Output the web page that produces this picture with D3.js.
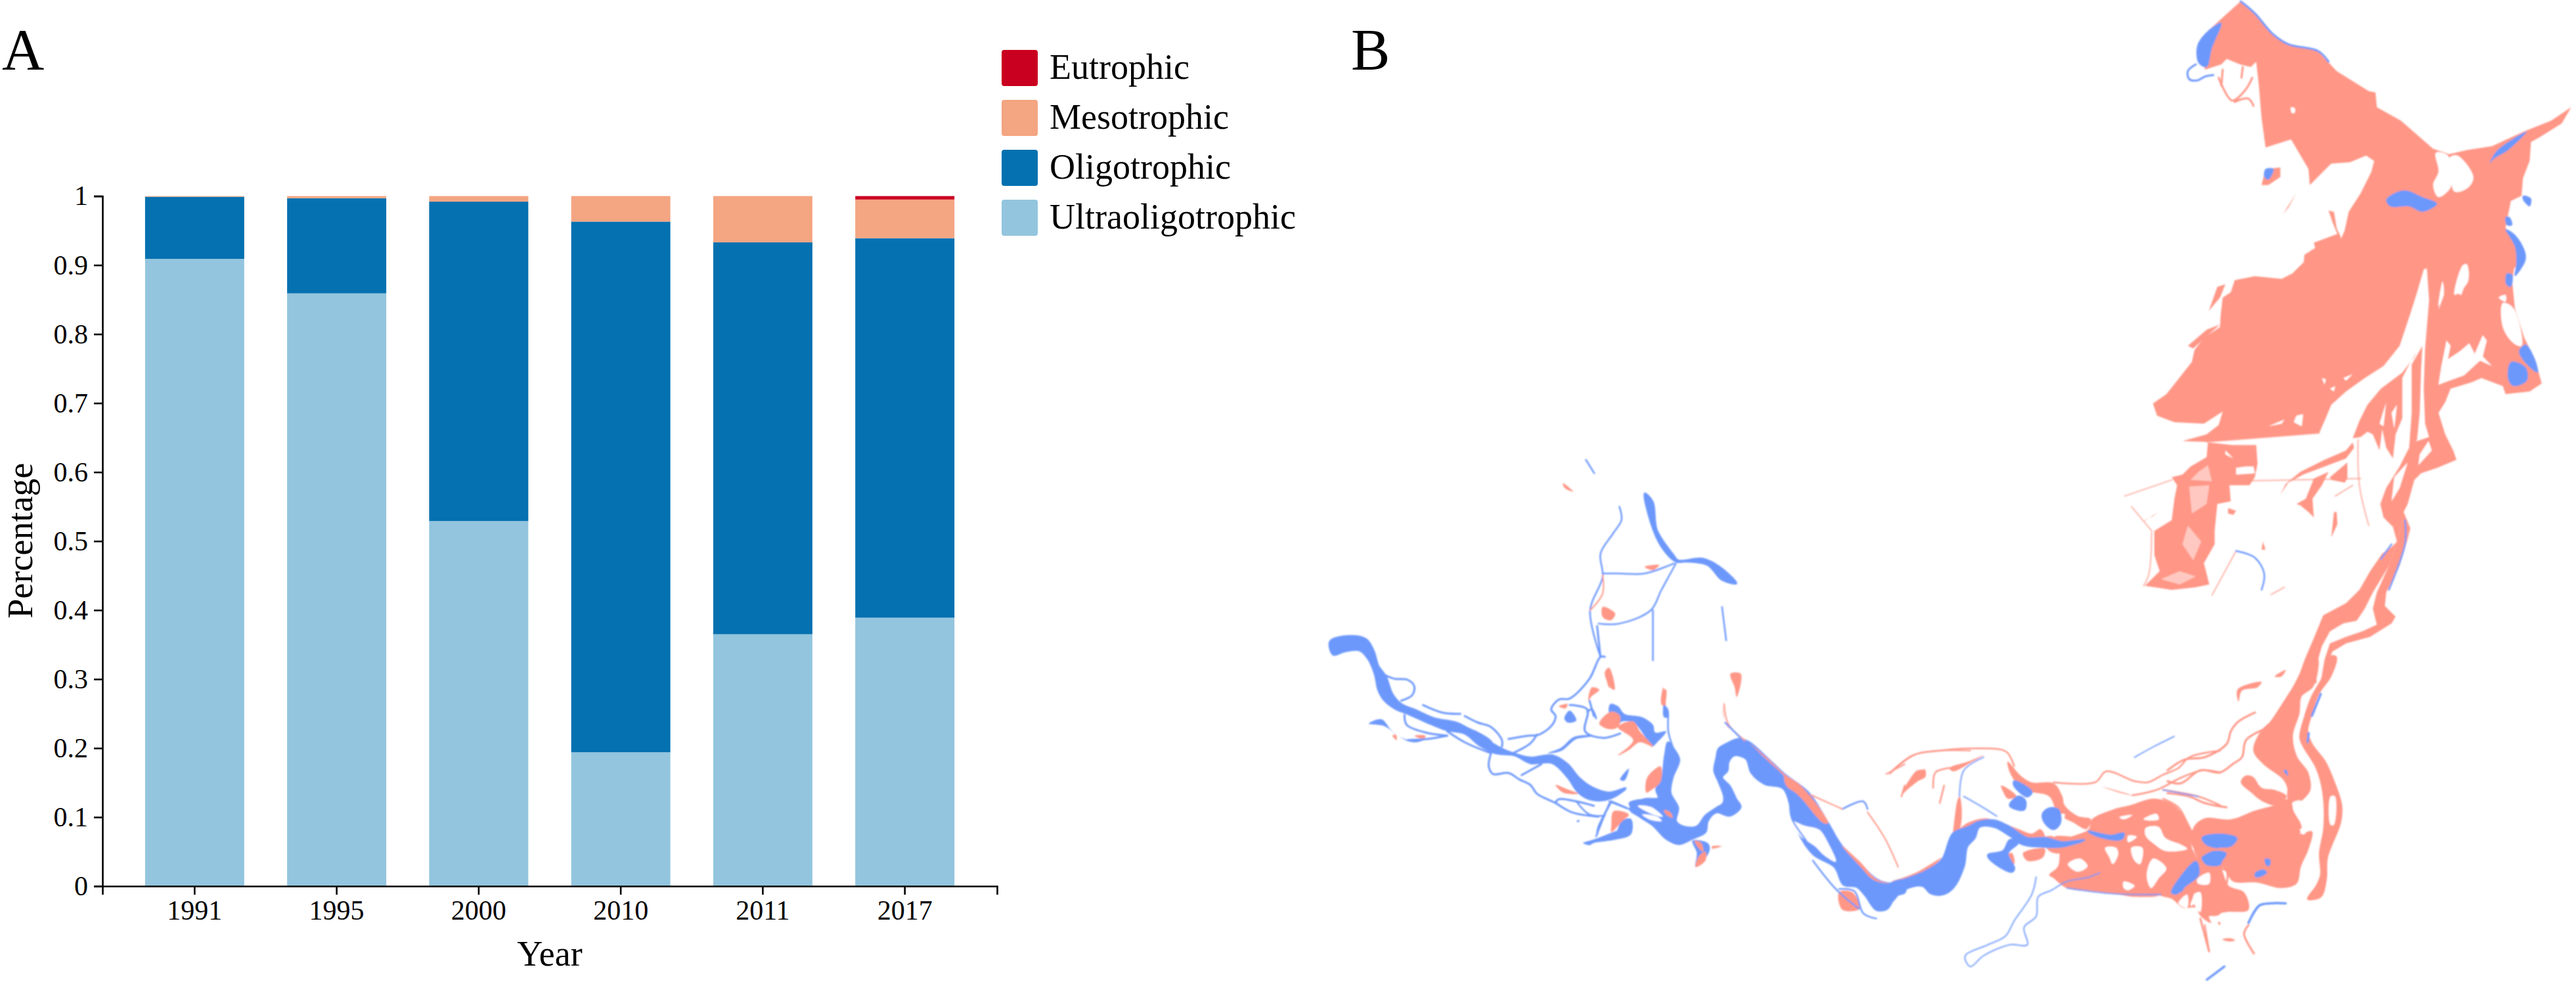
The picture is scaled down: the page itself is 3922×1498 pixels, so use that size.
<!DOCTYPE html>
<html><head><meta charset="utf-8">
<script src="https://cdn.jsdelivr.net/npm/d3@7"></script>
<style>html,body{margin:0;background:#fff}svg{display:block}text{font-family:"Liberation Serif","Times New Roman",serif;fill:#000}</style>
</head><body><svg id="c" width="3922" height="1498"></svg>
<script>
// ---- Panel A data ----
const years=["1991","1995","2000","2010","2011","2017"];
const classes=["Ultraoligotrophic","Oligotrophic","Mesotrophic","Eutrophic"];
const ultraoligotrophic=[0.909,0.859,0.529,0.194,0.365,0.389];
const oligotrophic=[0.090,0.138,0.463,0.769,0.568,0.550];
const mesotrophic=[0.001,0.003,0.008,0.037,0.067,0.056];
const eutrophic=[0,0,0,0,0,0.005];
const yTicks=[0,0.1,0.2,0.3,0.4,0.5,0.6,0.7,0.8,0.9,1];
const legendOrder=["Eutrophic","Mesotrophic","Oligotrophic","Ultraoligotrophic"];
const classColors=["#93c5de","#0571b0","#f4a582","#ca0020"];

// ---- Panel B map geometry: traced outlines in survey-sheet units ----
const sheetN=[3280,0,640,640], sheetS=[3180,400,640,640], sheetW=[2000,700,1000,798], sheetC=[2880,1000,522.7,520.6], sheetE=[3300,1000,522.7,520.6], sheetA=[2010,950,522.7,522.7], sheetB=[2400,1050,522.7,522.7];
const lakeNorth=[[322,5],[375,50],[440,125],[500,165],[610,190],[680,265],[800,340],[825,345],[830,400],[920,450],[1040,555],[1100,575],[1165,560],[1260,545],[1380,490],[1480,450],[1555,400],[1520,460],[1440,510],[1405,530],[1400,600],[1375,665],[1370,730],[1330,750],[1320,800],[1310,850],[1340,900],[1370,950],[1345,1000],[555,1000],[560,950],[600,925],[595,905],[690,870],[695,895],[710,860],[725,790],[770,720],[810,640],[820,600],[790,580],[730,605],[660,610],[620,650],[580,690],[575,630],[510,520],[415,550],[400,440],[390,320],[380,230],[360,250],[320,240],[270,220],[250,240],[190,260],[160,190],[200,115]];
const lakeEast=[[1005,980],[1345,980],[1335,1050],[1345,1150],[1380,1260],[1420,1340],[1445,1430],[1400,1460],[1310,1470],[1300,1440],[1220,1410],[1185,1425],[1105,1450],[1005,1450],[1010,1300],[1025,1120],[1017,1005]];
const lakeNorthBits=[[[400,690],[415,630],[470,625],[470,660],[425,690]],[[480,798],[530,720],[500,775]],[[650,785],[670,790],[680,850],[700,895],[690,890],[665,830]]];
const lakeSouthWest=[[800,0],[760,40],[720,60],[620,50],[545,65],[530,110],[500,130],[492,200],[490,240],[430,280],[395,325],[385,370],[330,440],[290,490],[240,525],[255,570],[320,595],[430,600],[500,555],[485,605],[440,640],[350,665],[440,668],[860,635],[880,590],[905,530],[960,480],[1030,430],[1100,385],[1160,310],[1180,250],[1200,190],[1225,110],[1250,25],[1300,0]];
const southStrands=[
 [[775,1568],[810,1470],[840,1400],[875,1315],[960,1270],[1010,1220],[1050,1150],[1095,1085],[1130,1060],[1150,1040],[1120,1130],[1060,1230],[1030,1290],[1000,1335],[950,1345],[900,1375],[870,1430],[850,1500],[850,1568]],
 [[865,1568],[885,1500],[910,1450],[960,1420],[1050,1395],[1130,1345],[1145,1320],[1105,1280],[1110,1230],[1160,1130],[1190,1030],[1200,990],[1170,960],[1160,1000],[1150,1040],[1120,1130],[1075,1230],[1060,1290],[1075,1350],[1020,1375],[960,1395],[900,1420],[880,1480]],
 [[1250,470],[1310,450],[1350,470],[1330,520],[1305,560],[1330,640],[1360,700],[1372,735],[1300,765],[1240,785],[1215,810],[1190,900],[1175,930],[1200,990],[1170,960],[1150,1040],[1135,985],[1100,950],[1088,900],[1110,840],[1160,760],[1190,700],[1210,670],[1270,650],[1255,600]],
 [[1205,380],[1245,310],[1240,400],[1235,560],[1225,660],[1195,700],[1205,560]],
 [[985,655],[1010,590],[1040,530],[1090,470],[1170,410],[1215,350],[1245,290],[1225,330],[1200,370],[1170,430],[1170,580],[1145,640],[1135,730],[1110,690],[1095,620],[1085,700],[1060,640],[1040,630],[1015,650]],
 [[448,180],[480,90],[510,80],[490,130]],[[370,310],[440,250],[490,230],[390,320]],
 [[445,670],[535,680],[625,680],[630,750],[620,800],[600,830],[525,830],[530,890],[480,900],[470,1000],[470,1050],[430,1120],[450,1200],[400,1210],[310,1220],[210,1205],[265,1150],[245,1090],[245,1000],[310,960],[320,880],[330,830],[310,800],[350,790],[380,760],[440,725]],
 [[715,865],[735,825],[790,780],[880,735],[960,700],[985,670],[990,690],[960,730],[880,760],[800,790],[745,820]],
 [[900,800],[965,745],[965,805],[955,820],[905,810]],
 [[840,805],[895,780],[870,830],[835,880],[840,950],[820,930],[790,905],[775,900],[810,880]],
 [[905,1025],[915,930],[925,930],[928,975]],
 [[650,1040],[660,1070],[645,1070]],[[520,915],[550,925],[540,940],[520,935]],[[205,965],[260,930],[240,945],[210,960]]
];
const southHatch=[[[375,835],[450,830],[440,900],[385,935]],[[350,1050],[370,980],[420,1040],[390,1110]],[[445,755],[460,815],[380,810],[410,780]],[[270,1180],[340,1150],[400,1170],[340,1200]]];
const southGaps=[
 [[510,700],[540,730],[510,715]],[[550,765],[585,760],[615,760],[620,785],[550,790]],
 [[775,570],[800,565],[795,610],[765,595]],[[670,610],[730,585],[720,600]],
 [[1305,455],[1315,390],[1335,290],[1350,310],[1340,360],[1385,330],[1420,300],[1440,340],[1470,270],[1485,290],[1470,350],[1505,385],[1460,365],[1400,420],[1345,440]],
 [[1320,70],[1325,120],[1305,175]],[[1400,10],[1415,50],[1390,120],[1365,110],[1385,50]],
 [[1230,755],[1280,700],[1268,665],[1235,715]],
 [[1085,600],[1110,520],[1100,610]],[[1130,560],[1150,530],[1140,620]],[[1140,800],[1190,745],[1160,840],[1130,890]],
 [[870,430],[885,435],[880,455]],[[900,470],[920,460],[915,480]],[[950,430],[985,415],[960,440]]
];
const lakeGaps=[[[1040,690],[1060,640],[1050,570],[1095,580],[1110,660],[1105,700],[1060,735]],[[1100,590],[1130,580],[1190,660],[1170,700],[1120,715],[1105,640]],[[510,400],[525,405],[522,422],[512,420]],[[1300,1130],[1340,1150],[1370,1290],[1340,1280],[1300,1220]],[[1285,1110],[1310,1100],[1310,1125]],[[1120,1100],[1150,990],[1165,985],[1170,1050]],[[1060,1140],[1075,1050],[1080,1090]]];
const lakeBlue=[[[865,745],[930,710],[1000,735],[1055,760],[1000,790],[950,770],[880,770]],[[1250,610],[1280,560],[1390,490],[1320,560],[1270,590]],[[1310,855],[1345,875],[1380,930],[1385,970],[1345,1030],[1350,980],[1345,920]],[[1310,810],[1325,810],[1335,840],[1315,840]],[[1315,1020],[1335,1025],[1330,1070],[1312,1060]],[[1375,730],[1405,740],[1400,770],[1375,745]],[[1385,1285],[1420,1340],[1430,1390],[1390,1360],[1360,1310]],[[1330,1350],[1385,1370],[1390,1420],[1340,1440],[1320,1415]],[[160,170],[200,115],[250,85],[215,180],[195,250],[165,235]],[[415,630],[445,630],[425,670],[410,660]]];
const lakeBlueLines=[[[322,5],[375,50],[440,125],[500,165],[610,190],[650,230]],[[155,240],[125,265],[130,295],[160,300],[190,285],[220,280]]];
const lakeSalmonLines=[[[240,290],[290,375],[340,335],[365,290]],[[300,380],[350,368],[370,395]],[[255,260],[250,320]],[[330,250],[325,290]]];
const southSalmonLines=[[[1005,660],[1010,830],[1045,980]],[[920,870],[985,830]],[[310,810],[135,870]],[[500,815],[1015,805]],[[235,1005],[225,1160],[205,1205]],[[160,910],[235,1000]],[[460,1240],[550,1075]],[[680,1238],[730,1210]],[[440,668],[860,635]]];
const southBlueLines=[[[550,1075],[620,1100],[655,1160],[645,1220]],[[1090,1105],[1130,1050]],[[1180,960],[1180,1050],[1120,1220]]];
const eastRiver=[[640,0],[682,0],[680,90],[660,140],[610,180],[600,260],[570,360],[590,460],[640,530],[650,610],[620,650],[570,690],[590,740],[610,780],[600,810],[570,700],[550,640],[550,600],[530,560],[440,490],[395,430],[430,340],[470,300],[530,210],[580,130],[610,70]];
const eastOuter=[[735,0],[770,0],[745,90],[690,170],[650,290],[640,340],[660,400],[720,480],[760,570],[795,680],[790,760],[730,920],[725,1020],[700,1100],[640,1110],[680,1050],[700,1000],[695,900],[715,780],[710,620],[680,510],[620,410],[605,370],[625,280],[660,180],[710,90]];
const eastBlocks=[
 [[120,780],[170,740],[290,745],[400,705],[490,680],[560,650],[570,700],[610,770],[600,810],[660,800],[645,880],[610,960],[590,1040],[520,1060],[410,1035],[300,1030],[270,990],[250,965],[170,965],[130,890],[110,860]],
 [[80,1040],[140,1030],[190,1000],[240,970],[280,1050],[350,1080],[370,1160],[270,1170],[190,1190],[200,1220],[145,1180],[130,1080]],
 [[355,545],[390,550],[430,600],[490,610],[545,640],[495,680],[430,660],[380,620],[335,575]],
 [[320,150],[430,115],[410,140],[340,155],[325,205]],[[490,90],[540,60],[520,90]],
 [[250,1295],[285,1290],[310,1300],[285,1305]],[[230,1220],[240,1215],[240,1230]]
];
const eastGaps=[[[570,670],[610,660],[620,700],[590,710]],[[640,700],[680,650],[700,730],[640,750]],[[745,640],[765,640],[760,770],[745,770]],[[605,790],[640,790],[620,815]],[[160,1015],[190,990],[190,1040],[150,1040]],[[105,1140],[125,1090],[125,1130]]];
const eastBlue=[[[160,920],[210,890],[270,900],[240,945],[180,955]],[[170,830],[240,810],[320,830],[290,870],[220,870]],[[400,990],[440,975],[455,990],[420,1010],[400,1010]],[[445,925],[470,930],[465,960],[450,955]],[[30,1060],[70,1000],[130,940],[140,990],[100,1020],[60,1080]],[[530,520],[545,520],[550,545]]];
const eastSalmonLines=[[[0,520],[80,470],[170,460],[270,400],[290,340],[320,300],[400,255]],[[0,570],[60,580],[150,520],[240,530],[300,490],[340,460],[360,380],[470,320]],[[0,625],[100,640],[170,670],[270,690]],[[150,1200],[190,1350]],[[370,1230],[350,1270],[395,1360]],[[115,800],[130,900],[170,965],[270,980],[270,1040]]];
const eastBlueLines=[[[370,1220],[420,1140],[470,1130],[540,1130]],[[180,1480],[260,1420]],[[700,170],[660,270]],[[645,350],[640,390]]];
const deltaBlocks=[
 [[780,850],[900,790],[915,745],[1010,700],[1090,680],[1200,650],[1290,680],[1340,740],[1370,800],[1370,870],[1390,930],[1300,1000],[1240,1060],[1230,1090],[1110,1100],[1040,1090],[920,1075],[800,1060],[740,1015],[720,1000],[760,960]],
 [[1210,1060],[1290,970],[1380,920],[1500,940],[1500,1080],[1500,1180],[1420,1180],[1390,1150],[1330,1150],[1280,1110],[1220,1090]],
 [[530,480],[590,545],[640,575],[740,580],[780,640],[790,680],[850,730],[910,745],[890,790],[830,760],[760,720],[720,640],[640,620],[590,600],[540,530]],
 [[240,930],[270,860],[300,660],[310,640],[320,690],[310,790],[280,810]],
 [[310,790],[350,760],[430,740],[500,760],[580,790],[640,810],[680,790],[700,830],[620,830],[540,780],[470,750],[400,755],[350,780]],
 [[520,910],[550,900],[560,950],[530,950]],[[690,830],[880,840],[780,900],[720,890]],
 [[500,590],[540,610],[570,640],[530,650],[510,620]],[[0,1030],[60,1010],[120,985],[230,920],[150,990],[60,1025]],
 [[265,510],[350,480],[420,450],[370,480],[280,525]],[[960,595],[1100,635],[1050,625]],
 [[600,900],[700,880],[690,920],[620,935]],[[65,590],[150,515],[155,550],[120,570],[70,605]]
];
const deltaGaps=[[[1040,735],[1100,725],[1060,745]],[[1150,745],[1210,720],[1220,745],[1170,750]],[[1160,785],[1220,780],[1250,830],[1320,860],[1350,880],[1250,890],[1195,855],[1160,820]],[[1080,820],[1120,825],[1080,850]],[[975,875],[1025,875],[1035,905],[1010,950],[995,920]],[[1095,875],[1145,875],[1135,950],[1110,935]],[[1195,925],[1255,970],[1220,1015],[1185,1060],[1165,1000]],[[1060,1030],[1110,1050],[1080,1070],[1060,1060]],[[805,950],[860,925],[895,960],[850,985]],[[1310,1130],[1350,1090],[1350,1150]],[[1380,1090],[1410,1080],[1410,1170],[1390,1150]],[[1395,1020],[1450,990],[1450,1040],[1400,1040]],[[755,730],[790,720],[780,760]],[[650,690],[690,690],[680,740],[650,740]],[[730,800],[770,800],[740,825]]];
const deltaBlue=[
 [[0,1040],[60,1020],[150,985],[230,930],[280,810],[350,780],[400,755],[470,750],[540,780],[620,830],[700,830],[780,850],[880,840],[780,870],[680,870],[600,860],[540,820],[470,780],[400,780],[380,830],[345,870],[330,960],[280,1060],[230,1090],[180,1085],[140,1050],[50,1070],[0,1120]],
 [[440,910],[510,890],[540,840],[580,850],[530,900],[560,970],[550,985],[490,960]],
 [[690,720],[720,695],[760,700],[770,760],[740,790],[700,760]],[[560,570],[640,620],[620,640],[560,590]],[[540,680],[580,640],[610,660],[605,700],[560,695]],
 [[1280,1080],[1390,940],[1400,1000],[1340,1050],[1300,1085]],[[900,800],[1000,820],[1060,810],[1050,835],[950,825]],[[1420,830],[1500,820],[1500,870],[1440,860]],[[1420,920],[1500,910],[1500,950],[1440,950]]
];
const deltaSalmonLines=[[[0,525],[100,450],[220,430],[350,420],[500,425],[530,440],[560,500]],[[45,640],[60,590]],[[190,600],[200,530],[265,510]],[[220,670],[240,590]],[[740,575],[930,575],[980,525],[1110,570],[1170,575],[1240,540],[1310,510],[1360,460],[1500,430]],[[1100,635],[1210,610],[1320,555],[1420,520],[1500,530]],[[1240,610],[1400,640],[1500,680]],[[1240,650],[1310,690],[1350,760],[1370,800]],[[1430,1230],[1450,1350]]];
const deltaBlueLines=[[[660,1010],[640,1090],[560,1210],[520,1280],[440,1320],[340,1365],[335,1385],[360,1420],[420,1370],[540,1320],[620,1320],[605,1240],[660,1190],[670,1100],[730,1070],[800,1030],[900,1010],[950,990]],[[1110,460],[1200,410],[1290,365]],[[310,640],[330,520],[420,460]],[[330,640],[400,680],[480,730]],[[800,1060],[1000,1085],[1230,1090]],[[1240,610],[1400,640]]];
// upper western tributaries
const westBranch=[[790,100],[810,125],[820,210],[860,285],[870,300],[930,295],[970,320],[1010,370],[975,360],[940,315],[890,305],[865,305],[830,260],[805,190]];
const westSalmon=[[[700,625],[715,680],[705,680]],[[690,440],[720,460],[710,480],[690,470]],[[995,640],[1020,640],[1010,710],[1005,680]],[[835,680],[840,740],[830,730]],[[790,320],[825,315],[810,330]],[[1405,1000],[1440,930],[1460,930],[1430,970]],[[595,70],[620,95],[600,85]]];
const westBlueLines=[[[730,140],[735,180],[715,220],[685,280],[690,350],[660,450],[685,590]],[[865,310],[830,390],[805,450],[730,490],[680,490]],[[690,340],[725,340],[790,340],[860,310]],[[810,450],[810,600]],[[650,0],[670,40]],[[975,440],[985,540]]];
const westSalmonLines=[[[1375,940],[1440,880],[1568,870]],[[660,450],[690,400],[690,345]],[[980,730],[990,790],[1030,840]]];
// western main stem
const stemWest=[[45,80],[130,55],[210,70],[245,125],[265,190],[300,240],[330,320],[370,365],[440,395],[520,430],[620,450],[680,480],[760,530],[830,570],[880,590],[960,610],[1060,600],[1130,640],[1180,700],[1240,745],[1320,770],[1395,750],[1350,785],[1290,805],[1230,800],[1180,770],[1130,700],[1060,635],[960,635],[890,600],[800,590],[730,555],[660,500],[580,485],[490,450],[400,410],[340,385],[290,345],[265,300],[250,230],[220,160],[180,120],[110,125],[60,140]];
const stemWestPatches=[[[222,455],[280,435],[330,490],[400,530],[470,530],[440,540],[400,535],[350,505],[290,465]],[[1040,590],[1100,565],[1160,515],[1240,508],[1170,525],[1100,580]],[[1115,430],[1140,395],[1170,440],[1130,450]],[[1170,900],[1185,895],[1180,905]],[[660,470],[780,530],[800,580],[730,550]]];
const stemWestLines=[[[1300,150],[1280,150],[1230,250],[1140,340],[1090,345],[1055,390],[1075,420],[1060,460],[1000,505],[950,510],[860,525]],[[300,235],[340,250],[400,255],[430,285],[420,325],[370,350]],[[385,415],[395,460],[480,495],[580,510]],[[400,530],[490,525],[580,510]],[[580,490],[660,540],[780,590]],[[470,370],[560,405],[640,410]],[[660,420],[720,450],[780,470],[830,530],[830,560]],[[780,590],[770,650],[790,685],[860,680],[910,710],[960,735],[990,775],[1070,815],[1150,860],[1270,880]],[[920,690],[1010,640]],[[880,590],[960,545],[990,505]],[[1075,815],[1090,800],[1170,810],[1250,830]],[[1330,810],[1400,840]],[[1330,810],[1270,930],[1265,960]],[[1210,1000],[1260,985],[1350,950]],[[1280,150],[1265,10]],[[1220,400],[1240,390],[1260,430]],[[1230,350],[1250,420]],[[1140,370],[1220,390],[1210,490],[1290,520],[1370,500]]];
const stemWestSalmon=[[[1300,220],[1320,200],[1345,300],[1325,290]],[[1225,350],[1240,290],[1275,300],[1240,330]],[[1075,735],[1130,755],[1180,775],[1110,770]],[[330,510],[350,530],[345,505]],[[430,510],[480,510],[475,525]],[[1090,375],[1130,365],[1120,385]]];
// central main stem
const stemMid=[[420,240],[445,270],[470,320],[440,400],[430,470],[465,540],[455,600],[490,625],[550,625],[590,575],[640,540],[670,520],[675,490],[650,420],[630,370],[640,310],[650,270],[690,245],[740,225],[790,240],[870,310],[950,385],[1060,470],[1150,610],[1210,710],[1290,790],[1370,865],[1430,885],[1500,870],[1500,925],[1460,940],[1420,1000],[1370,1005],[1320,940],[1280,900],[1220,890],[1180,810],[1080,750],[1000,620],[980,540],[945,450],[860,430],[800,380],[775,315],[720,300],[695,330],[690,370],[665,400],[700,440],[730,500],[750,535],[700,575],[640,560],[600,600],[590,650],[530,680],[470,705],[410,680],[350,620],[290,580],[245,545],[310,500],[375,495],[365,455],[390,410],[405,300]];
const stemMidPatches=[[[155,65],[190,75],[220,110],[300,125],[350,160],[360,195],[410,190],[370,240],[345,260],[320,225],[290,180],[260,150],[210,145],[190,160],[150,110]],[[30,700],[70,690],[180,650],[205,600],[250,590],[250,660],[180,685],[80,700],[60,710]],[[400,70],[420,90],[420,125],[400,125]],[[530,690],[600,700],[610,725],[590,770],[545,810],[550,745]],[[200,410],[240,360],[220,415]],[[240,515],[340,500],[400,540],[340,530],[250,540]]];
const stemMidGaps=[[[985,600],[1040,620],[1110,640],[1150,700],[1185,785],[1130,755],[1090,715],[1020,665]],[[280,530],[340,535],[395,580],[350,570]],[[300,570],[370,580],[390,600],[340,595]]];
const stemMidSalmon=[[[105,155],[160,100],[200,120],[190,170],[150,180]],[[190,170],[260,145],[290,190],[350,260],[290,240],[240,275],[190,300],[260,230]],[[320,410],[350,370],[385,350],[385,420],[340,460],[320,470]],[[160,620],[170,555],[240,570],[210,600],[160,650]],[[795,245],[870,310],[950,385],[1050,465],[1150,610],[1130,610],[1040,510],[950,395],[870,320]],[[950,395],[1010,425],[1060,480],[1085,540],[1060,525],[1000,470],[960,440]],[[1200,925],[1260,925],[1295,1000],[1215,1005]],[[540,690],[570,700],[580,740],[560,725]],[[560,760],[590,740],[590,780],[545,810]],[[620,715],[665,715],[620,725]],[[395,0],[410,0],[405,70]],[[670,70],[680,150],[700,180],[690,170],[672,120]],[[400,550],[430,560],[440,585],[410,570]],[[1210,710],[1290,780],[1370,865],[1430,885],[1360,870],[1290,800]]];
const stemMidBlueLines=[[[680,150],[750,220]],[[1080,780],[1185,910],[1290,1000]],[[1200,910],[1270,920],[1310,1020],[1370,1045]],[[90,670],[150,520]],[[150,510],[240,545]],[[420,120],[420,190],[440,260]],[[0,510],[60,570],[130,575]],[[975,510],[985,590],[1050,690],[1085,750]],[[1215,545],[1310,510],[1330,545]],[[0,220],[70,210]]];
const stemMidSalmonLines=[[[1070,480],[1215,545]],[[1330,560],[1410,680],[1470,810]],[[1415,385],[1500,340]]];

// ---- Styles ----
const salmon="#ff9686", sky="#6d98fb", hatch="#ffc9c1";
const svg=d3.select("#c");

// ---- Panel A ----
const x=d3.scaleBand().domain(years).range([156,1518]).paddingInner(0.302).paddingOuter(0.3);
const y=d3.scaleLinear().domain([0,1]).range([1349,298.5]);
const rows=years.map((yr,i)=>({year:yr,Ultraoligotrophic:ultraoligotrophic[i],Oligotrophic:oligotrophic[i],Mesotrophic:mesotrophic[i],Eutrophic:eutrophic[i]}));
const stacked=d3.stack().keys(classes)(rows);
const color=d3.scaleOrdinal().domain(classes).range(classColors);
svg.append("g").selectAll("g").data(stacked).join("g").attr("fill",d=>color(d.key))
 .selectAll("rect").data(d=>d).join("rect")
 .attr("x",d=>x(d.data.year)).attr("width",x.bandwidth())
 .attr("y",d=>y(d[1])).attr("height",d=>y(d[0])-y(d[1]));
const ax=svg.append("g").attr("transform","translate(0,1349)").call(d3.axisBottom(x).tickSizeOuter(0).tickSize(13).tickPadding(8));
const ay=svg.append("g").attr("transform","translate(156,0)").call(d3.axisLeft(y).tickValues(yTicks).tickFormat(d3.format("~g")).tickSizeOuter(0).tickSize(13).tickPadding(9));
[ax,ay].forEach(a=>{a.selectAll("path,line").attr("stroke","#000").attr("stroke-width",2.6);a.selectAll("text").attr("font-size",42).attr("font-family",'"Liberation Serif"').attr("fill","#000");});
svg.append("text").attr("x",837).attr("y",1470).attr("text-anchor","middle").attr("font-size",54).text("Year");
svg.append("text").attr("transform","translate(49,823) rotate(-90)").attr("text-anchor","middle").attr("font-size",54).text("Percentage");
svg.append("text").attr("x",3).attr("y",105).attr("font-size",89).text("A");
svg.append("text").attr("x",2057).attr("y",105).attr("font-size",89).text("B");
const leg=d3.scaleBand().domain(legendOrder).range([66,370]);
legendOrder.forEach(n=>{
  svg.append("rect").attr("x",1525).attr("y",leg(n)+10).attr("width",55).attr("height",55).attr("rx",4).attr("fill",color(n));
  svg.append("text").attr("x",1598).attr("y",leg(n)+54).attr("font-size",54).text(n);
});

// ---- Panel B ----
const defs=svg.append("defs");
defs.append("filter").attr("id","soft").append("feGaussianBlur").attr("stdDeviation",0.8);
const map=svg.append("g").attr("filter","url(#soft)");
function projector(sheet){
  const px=d3.scaleLinear().domain([0,1568]).range([sheet[0],sheet[0]+sheet[2]]);
  const py=d3.scaleLinear().domain([0,1568]).range([sheet[1],sheet[1]+sheet[3]]);
  return d=>[px(d[0]),py(d[1])];
}
function areas(rings,sheet,fill,smooth,grow){
  const p=projector(sheet);
  const line=d3.line().curve(smooth?d3.curveCatmullRomClosed.alpha(0.5):d3.curveLinearClosed);
  const g=map.append("g").attr("fill",fill);
  if(grow) g.attr("stroke",fill).attr("stroke-width",grow).attr("stroke-linejoin","round");
  g.selectAll("path").data(rings).join("path").attr("d",r=>line(r.map(p)));
}
function lines(paths,sheet,stroke,w,op){
  const p=projector(sheet);
  const line=d3.line().curve(d3.curveCatmullRom.alpha(0.5));
  map.append("g").attr("fill","none").attr("stroke",stroke).attr("stroke-width",w).attr("stroke-opacity",op||1).attr("stroke-linejoin","round").attr("stroke-linecap","round")
   .selectAll("path").data(paths).join("path").attr("d",r=>line(r.map(p)));
}
// salmon land of the lake and delta, then gaps, then blue water, then thin channels
areas([lakeNorth,lakeEast],sheetN,salmon);
areas(lakeNorthBits,sheetN,salmon);
areas([lakeSouthWest],sheetS,salmon);
areas(southStrands,sheetS,salmon);
areas([eastRiver,eastOuter],sheetE,salmon,true,2);
areas(eastBlocks,sheetE,salmon,true);
areas(deltaBlocks,sheetC,salmon,true);
areas(westSalmon,sheetW,salmon,true);
areas(lakeGaps,sheetN,"#fff",true);
areas(southGaps,sheetS,"#fff");
areas(southHatch,sheetS,hatch);
areas(eastGaps,sheetE,"#fff",true);
areas(deltaGaps,sheetC,"#fff",true);
areas(lakeBlue,sheetN,sky,true);
areas(eastBlue,sheetE,sky,true);
areas(deltaBlue,sheetC,sky,true,3);
areas([westBranch],sheetW,sky,true,2);
areas([stemWest],sheetA,sky,true,3);
areas(stemWestPatches,sheetA,sky,true);
areas([stemMid],sheetB,sky,true,3);
areas(stemMidPatches,sheetB,sky,true);
areas(stemMidGaps,sheetB,"#fff",true);
areas(stemMidSalmon,sheetB,salmon,true);
areas(stemWestSalmon,sheetA,salmon,true);
lines(lakeBlueLines,sheetN,sky,3);
lines(lakeSalmonLines,sheetN,salmon,3);
lines(southSalmonLines,sheetS,salmon,2,0.7);
lines(southBlueLines,sheetS,sky,2.5);
lines(eastSalmonLines,sheetE,salmon,3);
lines(eastBlueLines,sheetE,sky,3.5);
lines(deltaSalmonLines,sheetC,salmon,2.5);
lines(deltaBlueLines,sheetC,sky,2.2,0.85);
lines(westBlueLines,sheetW,sky,2.5);
lines(westSalmonLines,sheetW,salmon,2);
lines(stemWestLines,sheetA,sky,3);
lines(stemMidBlueLines,sheetB,sky,2.5);
lines(stemMidSalmonLines,sheetB,salmon,2);
</script></body></html>
